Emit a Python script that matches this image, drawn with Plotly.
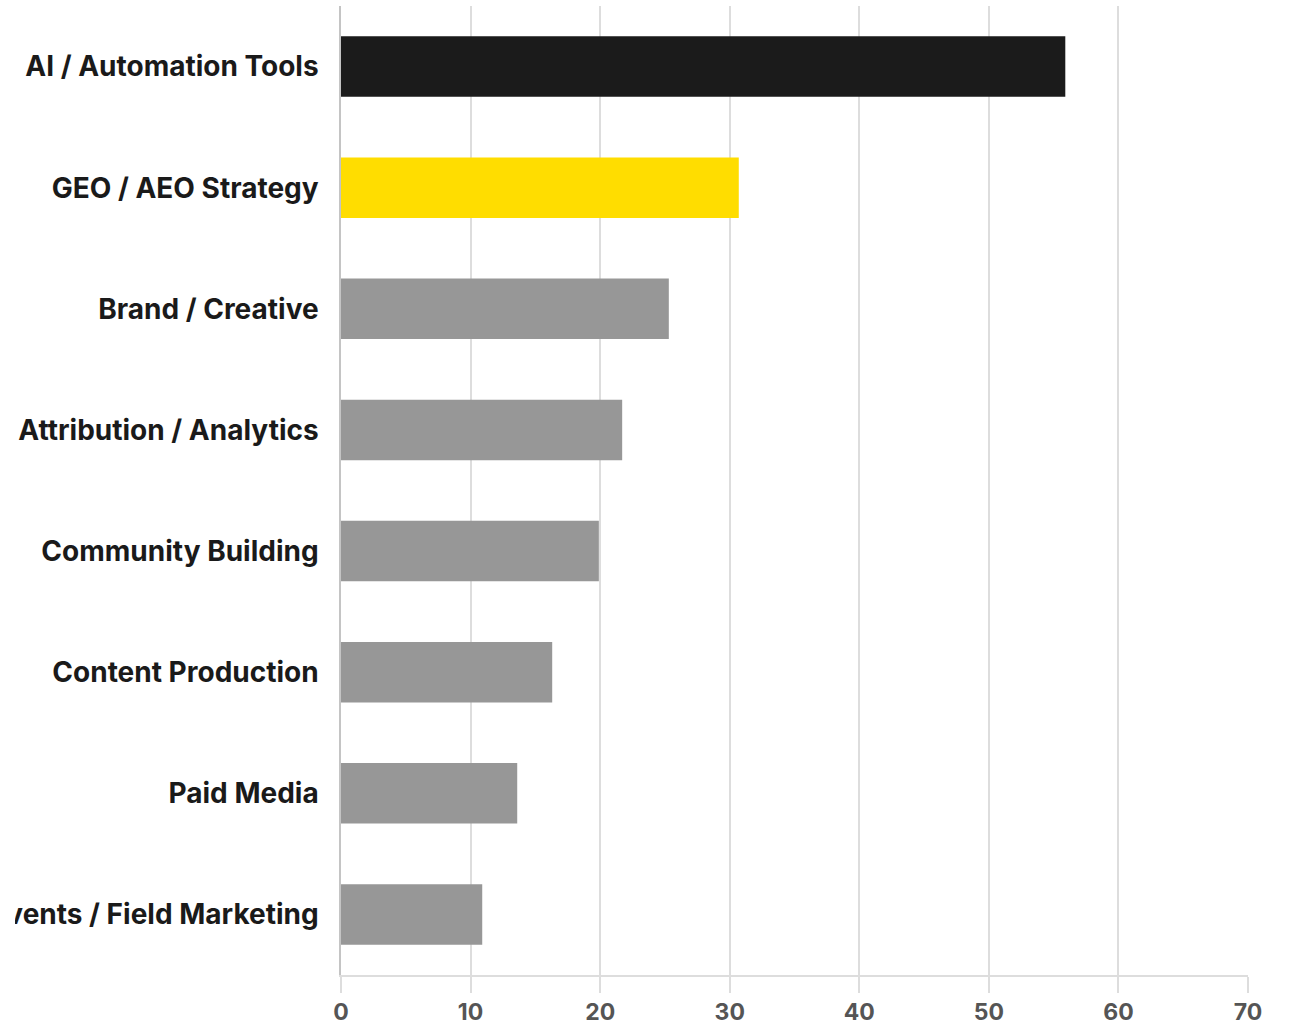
import plotly.graph_objects as go

# Share of respondents by investment area (values in %)
categories = [
    "AI / Automation Tools",
    "GEO / AEO Strategy",
    "Brand / Creative",
    "Attribution / Analytics",
    "Community Building",
    "Content Production",
    "Paid Media",
    "Events / Field Marketing",
]
values = [55.9, 30.7, 25.3, 21.7, 19.9, 16.3, 13.6, 10.9]
bar_colors = ["#1b1b1b", "#ffdd00", "#979797", "#979797",
              "#979797", "#979797", "#979797", "#979797"]
x_ticks = [0, 10, 20, 30, 40, 50, 60, 70]

fig = go.Figure(
    go.Bar(
        x=values,
        y=categories,
        orientation="h",
        marker=dict(color=bar_colors, line=dict(width=0)),
        width=0.5,
        hoverinfo="x+y",
    )
)

fig.update_layout(
    width=1289,
    height=1023,
    margin=dict(l=341, r=41, t=6, b=48, pad=0),
    paper_bgcolor="white",
    plot_bgcolor="white",
    showlegend=False,
    font=dict(family="Inter, 'Noto Sans', sans-serif"),
    # white strip along the left edge of the page that trims long labels
    shapes=[
        dict(
            type="rect", xref="paper", yref="paper",
            x0=-0.40, x1=-0.3594, y0=-0.1, y1=1.1,
            fillcolor="white", line=dict(width=0), layer="above",
        )
    ],
)

fig.update_xaxes(
    range=[0, 70],
    tickvals=x_ticks,
    showgrid=True,
    gridcolor="#dddddd",
    gridwidth=1.5,
    zeroline=False,
    showline=True,
    linecolor="#dddddd",
    linewidth=1.5,
    ticks="outside",
    ticklen=16,
    tickcolor="#dddddd",
    tickwidth=1.5,
    tickfont=dict(size=23, color="#555555", family="Inter, sans-serif", weight="bold"),
    automargin=False,
)

fig.update_yaxes(
    autorange="reversed",
    showgrid=False,
    zeroline=False,
    showline=True,
    linecolor="#c4c4c4",
    linewidth=1.5,
    ticks="",
    ticklabelstandoff=15,
    tickfont=dict(size=28, color="#1a1a1a", family="Inter, sans-serif", weight="bold"),
    automargin=False,
)

fig.write_html("out.html")
